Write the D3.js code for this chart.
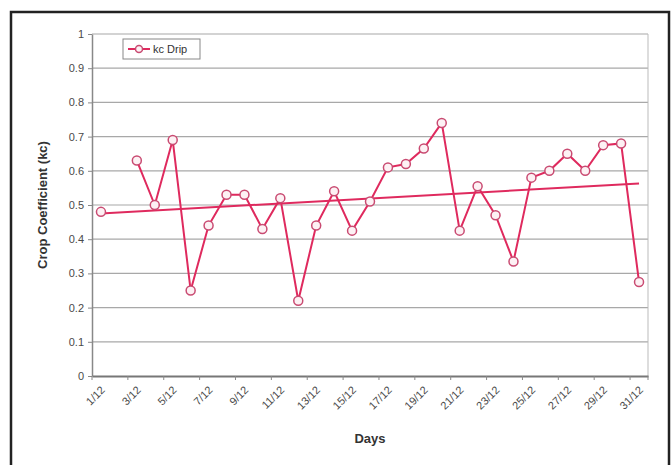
<!DOCTYPE html>
<html>
<head>
<meta charset="utf-8">
<script src="https://cdn.jsdelivr.net/npm/d3@7"></script>
<style>
  body { margin: 0; background: #fff; }
  svg { display: block; font-family: "Liberation Sans", Arial, sans-serif; }
</style>
</head>
<body>
<svg id="chart" width="671" height="465"></svg>
<script>
// day categories (December)
const days = [
  "1/12", "2/12", "3/12", "4/12", "5/12", "6/12", "7/12", "8/12", "9/12", "10/12",
  "11/12", "12/12", "13/12", "14/12", "15/12", "16/12", "17/12", "18/12", "19/12", "20/12",
  "21/12", "22/12", "23/12", "24/12", "25/12", "26/12", "27/12", "28/12", "29/12", "30/12", "31/12"
];
// kc Drip values, 2/12 missing
const kcDrip = [
  0.48, null, 0.63, 0.50, 0.69, 0.25, 0.44, 0.53, 0.53, 0.43,
  0.52, 0.22, 0.44, 0.54, 0.425, 0.51, 0.61, 0.62, 0.665, 0.74,
  0.425, 0.555, 0.47, 0.335, 0.58, 0.60, 0.65, 0.60, 0.675, 0.68, 0.275
];
const yTicks = [0, 0.1, 0.2, 0.3, 0.4, 0.5, 0.6, 0.7, 0.8, 0.9, 1];
const seriesName = "kc Drip";

const margin = { top: 34, right: 23, bottom: 89, left: 92 };
const width = 671, height = 465;
const lineColor = "#df2a5e";
const markerStroke = "#c94b72";
const markerFill = "#fdf1f4";
const gridColor = "#a8a8a8";
const textColor = "#4a4a4a";

const svg = d3.select("#chart");

// outer frame
svg.append("rect")
  .attr("x", 11).attr("y", 12)
  .attr("width", 658).attr("height", 470)
  .attr("fill", "#fff")
  .attr("stroke", "#222")
  .attr("stroke-width", 2.5);

const x = d3.scaleBand()
  .domain(days)
  .range([margin.left, width - margin.right])
  .padding(0);
const y = d3.scaleLinear()
  .domain([0, 1])
  .range([height - margin.bottom, margin.top]);
const cx = (d) => x(d) + x.bandwidth() / 2;

// gridlines
svg.append("g")
  .selectAll("line")
  .data(yTicks.filter((d) => d > 0))
  .join("line")
  .attr("x1", margin.left)
  .attr("x2", width - margin.right)
  .attr("y1", (d) => y(d))
  .attr("y2", (d) => y(d))
  .attr("stroke", gridColor)
  .attr("stroke-width", 1.2);

// right edge of plot area
svg.append("line")
  .attr("x1", width - margin.right).attr("x2", width - margin.right)
  .attr("y1", margin.top).attr("y2", y(0))
  .attr("stroke", "#bbb");

// y axis
svg.append("g")
  .attr("transform", `translate(${margin.left},0)`)
  .call(d3.axisLeft(y).tickValues(yTicks).tickSize(4).tickSizeOuter(0).tickFormat(d3.format("")))
  .call((g) => g.select(".domain").attr("stroke", "#888").attr("stroke-width", 1.5))
  .call((g) => g.selectAll(".tick line").attr("stroke", "#888"))
  .call((g) => g.selectAll(".tick text")
    .attr("x", -8)
    .attr("fill", textColor)
    .style("font-size", "11px"));

// x axis
const gX = svg.append("g")
  .attr("transform", `translate(0,${y(0)})`)
  .call(d3.axisBottom(x)
    .tickValues(days.filter((d, i) => i % 2 === 0))
    .tickSize(0)
    .tickSizeOuter(0))
  .call((g) => g.select(".domain").attr("stroke", "#777").attr("stroke-width", 2))
  .call((g) => g.selectAll(".tick text")
    .attr("fill", textColor)
    .style("font-size", "11px")
    .attr("text-anchor", "end")
    .attr("dy", "0.35em")
    .attr("transform", "translate(2,12) rotate(-45)")
    .attr("x", 0)
    .attr("y", 0));

// x tick marks every two categories, on band edges
gX.selectAll(".cat-tick")
  .data(days.filter((d, i) => i % 2 === 0).map((d) => x(d)).concat([x.range()[1]]))
  .join("line")
  .attr("class", "cat-tick")
  .attr("x1", (d) => d).attr("x2", (d) => d)
  .attr("y1", 0).attr("y2", 4)
  .attr("stroke", "#888");

// axis titles
svg.append("text")
  .attr("transform", `translate(42,${(margin.top + y(0)) / 2}) rotate(-90)`)
  .attr("text-anchor", "middle")
  .attr("dy", "0.35em")
  .attr("font-weight", "bold")
  .attr("fill", "#333")
  .style("font-size", "13px")
  .text("Crop Coefficient (kc)");

svg.append("text")
  .attr("x", (margin.left + width - margin.right) / 2)
  .attr("y", 443)
  .attr("text-anchor", "middle")
  .attr("font-weight", "bold")
  .attr("fill", "#333")
  .style("font-size", "13px")
  .text("Days");

// linear trend (least squares over available days)
const pts = kcDrip
  .map((v, i) => ({ i: i + 1, v }))
  .filter((d) => d.v != null);
const mx = d3.mean(pts, (d) => d.i);
const my = d3.mean(pts, (d) => d.v);
const slope = d3.sum(pts, (d) => (d.i - mx) * (d.v - my)) / d3.sum(pts, (d) => (d.i - mx) ** 2);
const intercept = my - slope * mx;
const trendEnds = [days[0], days[days.length - 1]];

svg.append("line")
  .attr("x1", cx(trendEnds[0]))
  .attr("x2", cx(trendEnds[1]))
  .attr("y1", y(intercept + slope * 1))
  .attr("y2", y(intercept + slope * days.length))
  .attr("stroke", lineColor)
  .attr("stroke-width", 2);

// series line
const series = days.map((d, i) => ({ day: d, value: kcDrip[i] }));
const line = d3.line()
  .defined((d) => d.value != null)
  .x((d) => cx(d.day))
  .y((d) => y(d.value));

svg.append("path")
  .datum(series)
  .attr("fill", "none")
  .attr("stroke", lineColor)
  .attr("stroke-width", 2)
  .attr("d", line);

svg.append("g")
  .selectAll("circle")
  .data(series.filter((d) => d.value != null))
  .join("circle")
  .attr("cx", (d) => cx(d.day))
  .attr("cy", (d) => y(d.value))
  .attr("r", 4.5)
  .attr("fill", markerFill)
  .attr("stroke", markerStroke)
  .attr("stroke-width", 1.5);

// legend
const legend = svg.append("g").attr("transform", "translate(123,39)");
legend.append("rect")
  .attr("width", 77).attr("height", 20)
  .attr("fill", "#fff")
  .attr("stroke", "#888");
legend.append("line")
  .attr("x1", 5).attr("x2", 27)
  .attr("y1", 10).attr("y2", 10)
  .attr("stroke", lineColor)
  .attr("stroke-width", 2);
legend.append("circle")
  .attr("cx", 16).attr("cy", 10).attr("r", 3.5)
  .attr("fill", markerFill)
  .attr("stroke", markerStroke)
  .attr("stroke-width", 1.5);
legend.append("text")
  .attr("x", 30).attr("y", 10)
  .attr("dy", "0.35em")
  .attr("fill", "#333")
  .style("font-size", "11px")
  .text(seriesName);
</script>
</body>
</html>
